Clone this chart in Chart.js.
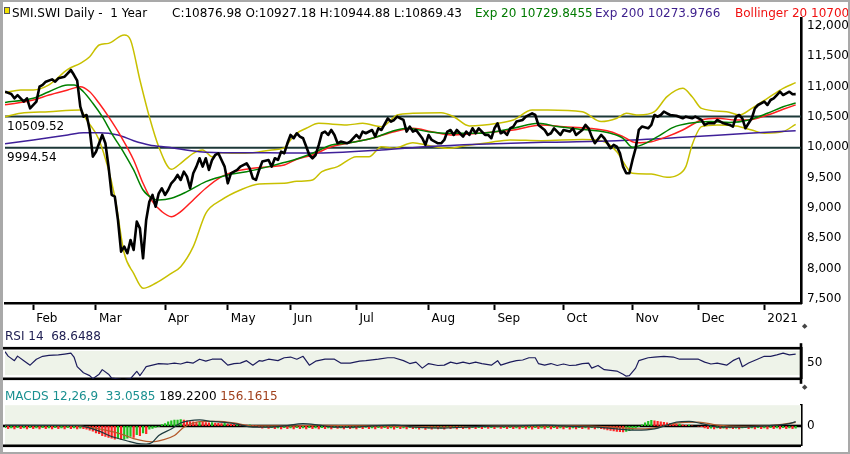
<!DOCTYPE html>
<html>
<head>
<meta charset="utf-8">
<script src="https://cdn.jsdelivr.net/npm/chart.js@4.4.1/dist/chart.umd.min.js"></script>
<style>
  html, body { margin: 0; padding: 0; background: #fff; }
  #wrap { position: relative; width: 850px; height: 454px; overflow: hidden; font-family: "DejaVu Sans"; font-size: 12px; }
  canvas { position: absolute; left: 0; }
  .lbl { position: absolute; white-space: nowrap; line-height: 14px; }
  #frame { position: absolute; left: 0; top: 0; width: 850px; height: 454px; box-sizing: border-box;
           border: 2px solid #a9a9a9; border-left-width: 3px; pointer-events: none; }
  .grip { position: absolute; font-size: 7px; color: #444; left: 802px; }
</style>
</head>
<body>
<div id="wrap">
  <canvas id="main" width="850" height="330" style="top:0"></canvas>
  <canvas id="rsi" width="850" height="57" style="top:335px"></canvas>
  <canvas id="macd" width="850" height="67" style="top:392px"></canvas>

  <div class="lbl" style="left:4px;top:7px;width:4px;height:5px;background:#f2e200;border:1px solid #555"></div>
  <div class="lbl" style="left:12px;top:6px">SMI.SWI Daily -&nbsp; 1 Year</div>
  <div class="lbl" style="left:172px;top:6px">C:10876.98 O:10927.18 H:10944.88 L:10869.43</div>
  <div class="lbl" style="left:475px;top:6px;color:#007a00">Exp 20 10729.8455</div>
  <div class="lbl" style="left:595px;top:6px;color:#3c1e8c">Exp 200 10273.9766</div>
  <div class="lbl" style="left:735px;top:6px;color:#f01010">Bollinger 20 10700.4512</div>

  <div class="lbl" style="left:5px;top:329px;color:#1c1c50">RSI 14&nbsp; 68.6488</div>
  <div class="lbl" style="left:5px;top:389px"><span style="color:#1a9090">MACDS 12,26,9&nbsp; 33.0585</span> 189.2200 <span style="color:#a0401c">156.1615</span></div>
  <div class="grip" style="top:322px">&#9670;</div>
  <div class="grip" style="top:383px">&#9670;</div>
  <div id="frame"></div>
</div>

<script>
// month ticks (trading-day index from the first visible session)
const months = ['Feb', 'Mar', 'Apr', 'May', 'Jun', 'Jul', 'Aug', 'Sep', 'Oct', 'Nov', 'Dec', '2021'];
const monthDays = [9, 29, 51, 71, 91, 112, 135, 156, 178, 200, 221, 242];
const priceTicks = [7500, 8000, 8500, 9000, 9500, 10000, 10500, 11000, 11500, 12000];
const levels = [10509.52, 9994.54];

const closeDay = [0,2,3,4,6,7,8,10,11,12,13,15,16,17,19,20,21,22,23,24,25,26,27,28,29,30,31,32,33,34,35,36,37,38,39,40,
  41,42,43,44,45,46,47,48,49,50,51,52,53,54,55,56,57,58,59,60,61,62,63,64,65,66,67,68,70,71,72,74,75,77,78,79,80,81,82,
  84,85,86,87,88,89,90,91,92,93,94,95,96,97,98,99,100,101,102,103,104,105,106,107,109,110,112,113,114,115,117,118,119,
  120,122,123,124,125,126,127,128,129,130,131,133,134,135,136,137,138,139,140,141,142,143,144,146,147,148,149,150,151,
  153,154,155,156,157,158,159,160,161,162,163,165,166,168,169,170,172,173,174,175,177,178,180,181,182,184,185,186,187,
  188,190,191,192,193,194,195,196,197,198,199,200,201,202,203,205,206,207,208,209,210,211,212,214,216,217,219,220,222,
  223,224,226,227,229,231,232,233,234,235,236,237,238,239,240,241,242,243,244,245,246,247,248,249,250,251,252];
const closeVal = [10917,10880,10808,10860,10753,10808,10643,10753,11000,11030,11082,11120,11082,11138,11165,11220,11275,
  11192,11100,10670,10505,10533,10286,9846,9928,10067,10204,10067,9681,9215,9187,8803,8281,8363,8254,8473,
  8308,8775,8665,8171,8803,9104,9215,9022,9242,9325,9215,9297,9407,9462,9545,9462,9600,9517,9325,9572,9682,9820,9682,
  9820,9627,9792,9874,9902,9682,9407,9572,9627,9682,9737,9654,9490,9462,9627,9765,
  9792,9682,9820,9792,9928,9902,10067,10204,10150,10232,10177,10150,10013,9874,9820,9874,10040,10232,10260,10204,10286,
  10204,10067,10095,10067,10095,10204,10150,10260,10232,10286,10177,10314,
  10286,10479,10424,10451,10506,10479,10451,10260,10342,10260,10286,10150,10040,10204,10122,10095,10067,10067,10122,
  10260,10286,10204,10286,10177,10260,10204,10314,10232,10314,
  10204,10204,10150,10314,10396,10232,10260,10204,10314,10342,10424,10451,10506,10561,10533,10369,10286,10204,10232,
  10314,10204,10286,10260,10314,10204,10286,10369,10314,10177,
  10067,10204,10150,10067,9985,10040,10013,9902,9682,9572,9572,9792,9985,10286,10342,10314,10369,10533,10506,10533,
  10588,10561,10533,10520,10479,10506,10479,10506,10451,
  10369,10396,10396,10451,10396,10369,10342,10506,10533,10479,10314,10396,10479,10643,10698,10725,10753,10698,10780,
  10808,10862,10917,10862,10890,10917,10876,10877];

const emaDay = [0,9,14,20,22,25,28,31,34,38,41,44,47,49,53,58,64,71,77,84,88,92,98,104,109,117,123,128,135,141,
  151,162,170,176,183,186,193,197,200,203,208,213,218,225,231,237,243,248,252];
const emaVal = [10740,10808,10917,11028,11028,10917,10726,10505,10232,9902,9627,9297,9160,9133,9160,9270,9435,9545,
  9599,9682,9737,9792,9902,10040,10067,10149,10258,10314,10258,10232,10232,10314,10396,10342,10300,10286,10232,10149,
  10000,10040,10176,10330,10396,10424,10410,10451,10561,10670,10730];

const smaDay = [0,9,14,20,24,27,30,33,37,41,44,47,50,53,56,60,64,69,73,79,85,89,93,98,104,109,117,124,130,136,
  143,151,162,171,178,186,193,197,201,206,211,216,222,227,233,237,243,248,252];
const smaVal = [10700,10780,10863,10945,11000,10917,10726,10505,10176,9792,9407,9104,8940,8857,8940,9133,9325,9517,
  9599,9655,9682,9709,9803,9874,10011,10067,10149,10258,10314,10258,10204,10232,10286,10369,10341,10314,10258,10176,
  10077,10093,10176,10286,10451,10479,10451,10451,10533,10627,10700];

const ema200Day = [0,9,20,25,30,36,41,46,52,62,73,84,94,98,120,135,151,174,195,216,237,252];
const ema200Val = [10060,10121,10204,10242,10242,10204,10110,10040,10001,9928,9912,9912,9905,9905,9957,10013,10050,
  10085,10110,10166,10232,10274];

const upperDay = [0,5,9,14,20,24,27,30,33,38,40,43,46,49,53,56,60,63,66,69,73,79,85,89,91,93,96,100,109,114,
  120,125,130,139,143,148,157,162,168,173,184,190,195,198,202,207,211,216,219,222,230,234,238,243,248,252];
const upperVal = [10901,10945,10945,11028,11286,11385,11494,11687,11714,11852,11770,11110,10505,10011,9638,9737,9902,
  9957,9846,9912,9902,9912,9957,9990,10121,10232,10314,10396,10369,10396,10341,10533,10561,10570,10505,10352,10396,
  10451,10616,10616,10588,10424,10479,10561,10533,10588,10835,10973,10835,10643,10588,10533,10643,10808,10973,11066];

const lowerDay = [0,5,14,24,26,30,35,38,41,44,48,53,56,60,64,69,75,81,89,93,98,101,106,112,116,120,124,130,135,141,
  147,154,161,171,184,190,195,198,200,206,211,214,217,219,222,227,233,238,242,248,252];
const lowerVal = [10505,10561,10588,10616,10451,10121,9187,8254,7924,7677,7760,7924,8033,8363,8913,9133,9297,9396,
  9407,9440,9462,9599,9682,9846,9846,10011,9985,10077,10030,9985,10030,10077,10121,10110,10130,10110,9928,9682,9572,
  9561,9506,9534,9682,10040,10341,10369,10350,10286,10232,10260,10380];

const rsiDay = [0,1,3,4,6,8,10,12,14,17,19,21,22,23,25,27,28,30,31,33,34,37,38,40,42,43,44,45,47,49,52,54,56,58,60,
  62,64,66,69,71,73,75,77,79,81,82,84,87,89,91,93,95,97,99,102,105,107,110,113,115,119,122,124,127,129,131,133,135,138,
  140,142,144,146,148,150,152,155,157,158,161,163,165,167,169,170,172,174,176,178,180,182,184,186,187,189,191,193,195,
  197,198,199,201,202,205,207,210,213,215,218,221,223,225,227,230,232,234,235,237,240,242,244,246,248,250,252];
const rsiVal = [73.7,64.4,55,64.4,55,45.7,58,64,66,67,68.7,70.5,62.5,42.5,30,24,17.7,27,36.4,27,19,16.4,16,17.7,33,
  24,33,42.5,45.7,49,48,50,48,52,50,58,54,58,58,45.7,49,50,55,45.7,55,54,58,55,61,62.5,58,64,45.7,54,58,58,50,50,54,
  55,58,61,61,55,49,52,39.5,49,45,45.7,52,49,52,49,52,49,45.7,55,45.7,52,55,56.4,61,61,49,45.7,49,45,48,45,45.7,49,
  50,39.5,45,36.4,35,33.5,27,22.8,24,39.5,55,61,62.5,64,62.5,58,58,58,52,48,50,45.7,55,61,42.5,50,58.5,64,64,67,
  70.5,67,68.6];

const macdDay = [0,23,26,30,34,39,42,45,47,49,53,56,59,62,66,73,79,84,89,95,100,105,111,117,124,131,140,150,161,172,
  182,189,195,201,207,211,214,218,222,228,235,242,246,250,252];
const macdVal = [30,20,-53,-227,-467,-667,-773,-800,-720,-427,-133,133,240,267,200,107,-53,-53,0,107,40,-53,-53,0,40,
  -53,-93,-27,0,40,-27,-53,-133,-187,-133,40,173,200,107,-53,-53,0,40,107,189];

const signalDay = [0,23,30,37,41,45,47,50,54,57,60,63,68,73,79,89,100,120,140,160,180,195,203,208,213,221,227,235,
  245,252];
const signalVal = [20,10,-133,-360,-560,-680,-700,-627,-427,-53,133,200,200,133,0,0,30,0,-50,0,0,-60,-133,-60,107,
  173,40,-20,30,156];

// histogram, one bar per session
const histVal = [
  -40,-60,-45,-65,-40,-60,-45,-65,-40,-60,-45,-65,-40,-60,-45,-65,-40,-60,-45,-65,-40,-60,-45,-65,-50,-60,
  -70,-90,-110,-145,-160,-200,-215,-235,
  -250,-270,-250,-270,-270,-250,
  -215,-235,-180,-200,-145,-160,
  -70,-55,-35,-18,
  35,55,90,110,125,
  125,135,125,110,
  95,90,85,88,80,75,70,72,65,60,55,58,50,45,40,42,35,30,25,28,20,15,
  -30,-50,-35,-55,-40,-60,-45,-65,-40,-60,-45,-65,-40,-60,-45,-65,-40,-60,-45,-65,
  -40,-60,-45,-65,-35,-55,-45,-65,-40,-60,
  -45,-65,-40,-60,-35,-60,-45,-65,-40,-55,
  -40,-60,-45,-70,-40,-60,-45,-65,-40,-60,
  -50,-70,-45,-75,-50,-70,-45,-65,-50,-70,
  -40,-60,-45,-65,-35,-60,-45,-65,-40,-60,
  -40,-60,-35,-55,-40,-60,-30,-55,-40,-60,
  -40,-60,-45,-65,-40,-65,-45,-70,-40,-60,
  -45,-65,-40,-65,-40,-60,-45,-65,-40,-70,
  -45,-65,-40,-60,-45,-70,-40,-65,-45,-60,
  -70,-85,-95,-105,-115,-120,-125,-115,
  -100,-80,-50,-20,30,70,100,
  120,110,100,90,80,70,60,
  50,40,45,30,20,25,10,0,-10,-20,
  -45,-60,-50,-65,-45,-60,-50,-65,-45,-60,-50,-65,-45,
  -40,-60,-45,-65,-40,-60,-45,-65,-40,-60,-45,-65,-40,-60,-45,-60,-50];

const pts = (days, vals) => days.map((d, i) => ({x: d, y: vals[i]}));
const lastDay = 253.7;

Chart.defaults.font.family = 'DejaVu Sans';
Chart.defaults.font.size = 12;
Chart.defaults.color = '#000';

const baseOpts = {
  responsive: false,
  animation: false,
  plugins: {legend: {display: false}, tooltip: {enabled: false}},
  elements: {point: {radius: 0}, line: {borderJoinStyle: 'round'}}
};

// fills, rules and level captions drawn against the scales
const decor = {
  id: 'decor',
  beforeDatasetsDraw(chart, args, opts) {
    const {ctx, chartArea: a, scales} = chart;
    const y = scales.y;
    ctx.save();
    if (opts.band) {
      const top = y.getPixelForValue(opts.band[1]);
      const bot = y.getPixelForValue(opts.band[0]);
      ctx.fillStyle = '#eef3e9';
      ctx.fillRect(a.left, top, a.right - a.left, bot - top);
    }
    ctx.fillStyle = '#000';
    (opts.rules || []).forEach(v => {
      const py = y.getPixelForValue(v);
      ctx.fillRect(3, py - 1.3, a.right - 3, 2.6);
    });
    if (opts.axisExt) {
      ctx.fillRect(a.right - 1.3, a.top - opts.axisExt[0], 2.6, a.bottom - a.top + opts.axisExt[0] + opts.axisExt[1]);
    }
    ctx.restore();
  },
  afterDatasetsDraw(chart, args, opts) {
    if (!opts.captions) return;
    const {ctx, chartArea: a, scales: {y}} = chart;
    ctx.save();
    ctx.font = '12px "DejaVu Sans"';
    ctx.fillStyle = '#000';
    ctx.textBaseline = 'middle';
    opts.captions.forEach(v => ctx.fillText(v.toFixed(2), a.left + 2, y.getPixelForValue(v) + 10));
    ctx.restore();
  }
};

const line = (data, color, width, order, smooth) => ({
  data, borderColor: color, borderWidth: width, order,
  cubicInterpolationMode: smooth ? 'monotone' : 'default', tension: 0
});
const level = v => [{x: 0, y: v}, {x: lastDay, y: v}];

const rightAxis = (min, max, ticks) => ({
  position: 'right', min, max,
  afterBuildTicks: s => { s.ticks = ticks.map(v => ({value: v})); },
  ticks: {padding: 6},
  grid: {drawOnChartArea: false, drawTicks: false},
  border: {width: 2.6, color: '#000'},
  afterFit: s => { s.width = 48; }
});

new Chart(document.getElementById('main'), {
  type: 'line',
  data: {
    datasets: [
      line(pts(closeDay, closeVal), '#000000', 2.6, 0, false),
      line(pts(smaDay, smaVal), '#ff2020', 1.5, 2, true),
      line(pts(emaDay, emaVal), '#008000', 1.5, 1, true),
      line(pts(ema200Day, ema200Val), '#3f2099', 1.5, 3, true),
      line(pts(upperDay, upperVal), '#c8c000', 1.5, 4, true),
      line(pts(lowerDay, lowerVal), '#c8c000', 1.5, 4, true),
      line(level(levels[0]), '#1c3838', 2, 5, false),
      line(level(levels[1]), '#1c3838', 2, 5, false)
    ]
  },
  options: Object.assign({}, baseOpts, {
    layout: {padding: {left: 5, top: 18, right: 1, bottom: 0}},
    plugins: Object.assign({}, baseOpts.plugins, {decor: {captions: levels}}),
    scales: {
      x: {
        type: 'linear', min: 0, max: lastDay,
        afterBuildTicks: s => { s.ticks = monthDays.map(v => ({value: v})); },
        ticks: {
          callback: v => months[monthDays.indexOf(v)],
          autoSkip: false, maxRotation: 0, align: 'start', labelOffset: 3, padding: 2
        },
        grid: {drawOnChartArea: false, tickLength: 7, tickWidth: 2, tickColor: '#000'},
        border: {width: 2.6, color: '#000'},
        afterFit: s => { s.height = 27; }
      },
      y: rightAxis(7434, 12132, priceTicks)
    }
  }),
  plugins: [decor]
});

// the axis label overflow needs ~10px, so the panels keep 11px padding top and bottom
new Chart(document.getElementById('rsi'), {
  type: 'line',
  data: {datasets: [line(pts(rsiDay, rsiVal), '#1c1c5c', 1.2, 0, false)]},
  options: Object.assign({}, baseOpts, {
    layout: {padding: {left: 5, top: 11, right: 1, bottom: 11}},
    plugins: Object.assign({}, baseOpts.plugins, {decor: {band: [25, 75], rules: [17.4, 80.8], axisExt: [5, 5]}}),
    scales: {
      x: {type: 'linear', min: 0, max: lastDay, display: false},
      y: rightAxis(17.4, 80.8, [50])
    }
  }),
  plugins: [decor]
});

new Chart(document.getElementById('macd'), {
  type: 'line',
  data: {
    datasets: [
      line(pts(macdDay, macdVal), '#1d3a3e', 1.2, 0, true),
      line(pts(signalDay, signalVal), '#b45a2c', 1.2, 1, true),
      {
        type: 'bar', yAxisID: 'yh', order: 2,
        data: histVal.map((v, i) => ({x: i, y: v})),
        backgroundColor: histVal.map((v, i) => (i === 0 || v >= histVal[i - 1]) ? '#1fc01f' : '#ff2424'),
        barPercentage: 0.7, categoryPercentage: 1
      }
    ]
  },
  options: Object.assign({}, baseOpts, {
    layout: {padding: {left: 5, top: 11, right: 1, bottom: 11}},
    plugins: Object.assign({}, baseOpts.plugins, {decor: {band: [-880, 920], rules: [0, -880]}}),
    scales: {
      x: {type: 'linear', min: 0, max: lastDay, display: false, offset: false},
      y: rightAxis(-880, 920, [0]),
      yh: {display: false, min: -393, max: 411}
    }
  }),
  plugins: [decor]
});
</script>
</body>
</html>
